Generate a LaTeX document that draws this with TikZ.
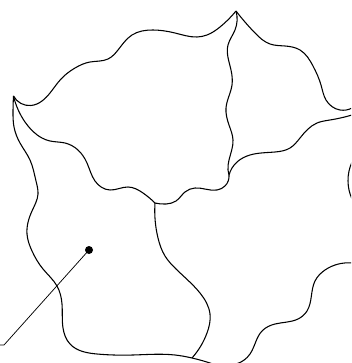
\documentclass[tikz,border=0pt]{standalone}
\usetikzlibrary{hobby}
\tikzset{
  outline/.style={draw=black,line width=0.8pt,line join=round,use Hobby shortcut},
  leader/.style={draw=black,line width=0.55pt},
  pin dot/.style={circle,fill=black,inner sep=0pt,minimum size=6pt}
}
\begin{document}
\begin{tikzpicture}[x=0.75pt,y=-0.75pt]
\useasboundingbox (0,0) rectangle (351,363);
\begin{scope}
\clip (0,0) rectangle (351,363);
% top boundary
\draw[outline] (13.5,96) .. (31,105.5) .. (50,93) .. (61,79) .. (75,68) .. (90,62) .. (108,59) .. (118,50) .. (132,35) .. (153,30) .. (175,33) .. (197,37) .. (207,35) .. (220,27) .. (236,11);
\draw[outline] (236,11) .. (255,33) .. (270,44) .. (285,46) .. (300,50) .. (313,66) .. (321,85) .. (326,100) .. (340,110) .. (352,108);
% right lower
\draw[outline] (229,175) .. (237,162) .. (250,155) .. (275,152) .. (290,148) .. (300,138) .. (317,123) .. (330,120) .. (352,115);
% inner vertical
\draw[outline] (236,11) .. (235,30) .. (228,45) .. (231,70) .. (232,85) .. (226,108) .. (229,125) .. (233,140) .. (229,160) .. (228,170) .. (229,175);
% middle wavy
\draw[outline] (13.5,96) .. (25,122) .. (42,138) .. (50,141) .. (65,143) .. (78,150) .. (87,163) .. (95,181) .. (110,190) .. (128,187) .. (143,193) .. (155,203);
\draw[outline] (155,203) .. (166,204) .. (176,201) .. (185,192) .. (195,188) .. (217,190) .. (225,186) .. (229,175);
% left and bottom
\draw[outline] (13.5,96) .. (13,112) .. (14,127) .. (20,143) .. (30,160) .. (36,181) .. (38,194) .. (32,211) .. (27,234) .. (32,251) .. (43,269) .. (57,286) .. (62,304) .. (63,328) .. (70,344) .. (97,354) .. (133,355) .. (175,355) .. (192,358) .. (213,364);
\draw[outline] (236,364) .. (250,354) .. (262,331) .. (275,324) .. (298,319) .. (307,311) .. (315,281) .. (325,270) .. (352,263);
% centre vertical
\draw[outline] (155,203) .. (158,238) .. (165,256) .. (176,269) .. (200,293) .. (210,314) .. (207,333) .. (192,358);
% far right arc
\draw[outline] (352,162) .. (348,181) .. (352,199);
\end{scope}
\node[pin dot] (pin) at (89,250) {};
\coordinate (lead) at (4,345);
\coordinate (leadend) at (0,345);
\draw[leader] (pin.center) -- (lead) -- (leadend);
\end{tikzpicture}
\end{document}
